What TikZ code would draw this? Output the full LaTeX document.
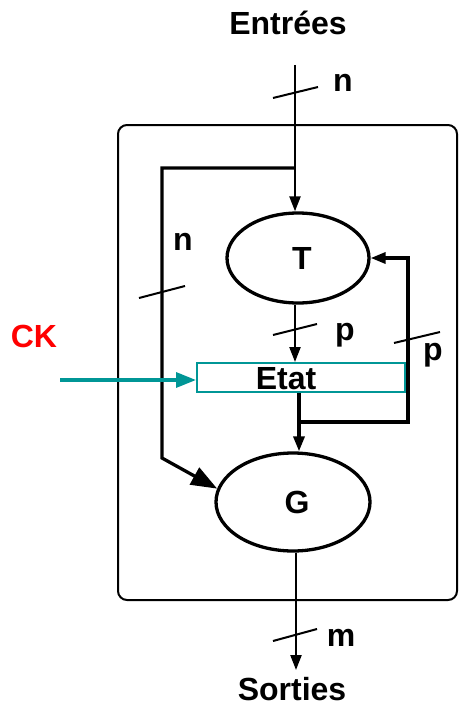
\documentclass[tikz,border=0pt]{standalone}
\usepackage{fontspec}
\setmainfont{Liberation Sans}
\usetikzlibrary{arrows.meta,shapes.geometric}
\definecolor{tealc}{RGB}{0,150,150}
\begin{document}
\begin{tikzpicture}[x=1pt,y=-1pt,
  lbl/.style={font=\fontsize{32}{32}\selectfont\bfseries, inner sep=0, anchor=base},
  arr/.style={-{Triangle[length=15pt,width=11pt]}},
  bigarr/.style={-{Triangle[length=26pt,width=19pt]}},
  thinln/.style={line width=2.3pt},
  thickln/.style={line width=3.3pt},
  slash/.style={line width=2pt},
  ell/.style={ellipse, draw, thickln, inner sep=0}]
\useasboundingbox (0,0) rectangle (458,709);

% outer box
\draw[line width=2pt, rounded corners=9pt] (118,125) rectangle (457,600);

% nodes
\node[ell, minimum width=142pt, minimum height=90pt] (T) at (298,258) {};
\node[ell, minimum width=154pt, minimum height=98pt] (G) at (293,502) {};
\node[draw=tealc, line width=2pt, minimum width=208pt, minimum height=29pt, inner sep=0] (etat) at (301,377.5) {};

\node[lbl] (Tl) at (302,269.5) {T};
\node[lbl] (Gl) at (297,513.5) {G};
\node[lbl] (El) at (286,389) {Etat};
\node[lbl] (entrees) at (288,35) {Entrées};
\node[lbl] (sorties) at (292,700) {Sorties};
\node[lbl, text=red] (ck) at (34,347) {CK};
\node[lbl] (n1) at (343,92) {n};
\node[lbl] (n2) at (183,250) {n};
\node[lbl] (p1) at (345,340) {p};
\node[lbl] (p2) at (433,360) {p};
\node[lbl] (m1) at (341,646) {m};

% coordinates
\coordinate (inTop) at (295,65);
\coordinate (j1) at (295,168);
\coordinate (b1) at (162,168);
\coordinate (b2) at (162,458);
\coordinate (e1) at (299,422);
\coordinate (e2) at (408,422);
\coordinate (ckS) at (60,380);
\coordinate (outEnd) at (296,670);

% connectors
\draw[thinln, arr] (inTop) -- (inTop |- T.north);
\draw[thickln, bigarr] (j1) -- (b1) -- (b2) -- (G.170);
\draw[thinln, arr] (T.south -| inTop) -- (etat.north -| inTop);
\draw[thickln, arr] (etat.south -| e1) -- (e1 |- G.north);
\draw[thickln, arr] (e1) -- (e2) -- (e2 |- T.east) -- (T.east);
\draw[tealc, line width=3.3pt, -{Triangle[length=20pt,width=15pt]}] (ckS) -- (ckS -| etat.west);
\draw[thinln, arr] (G.south -| outEnd) -- (outEnd);

% bus-width slashes
\draw[slash] (273,98) -- (318,87);
\draw[slash] (139,298) -- (185,286);
\draw[slash] (273,335) -- (317,324);
\draw[slash] (394,343) -- (440,332);
\draw[slash] (273,641) -- (317,629);
\end{tikzpicture}
\end{document}
